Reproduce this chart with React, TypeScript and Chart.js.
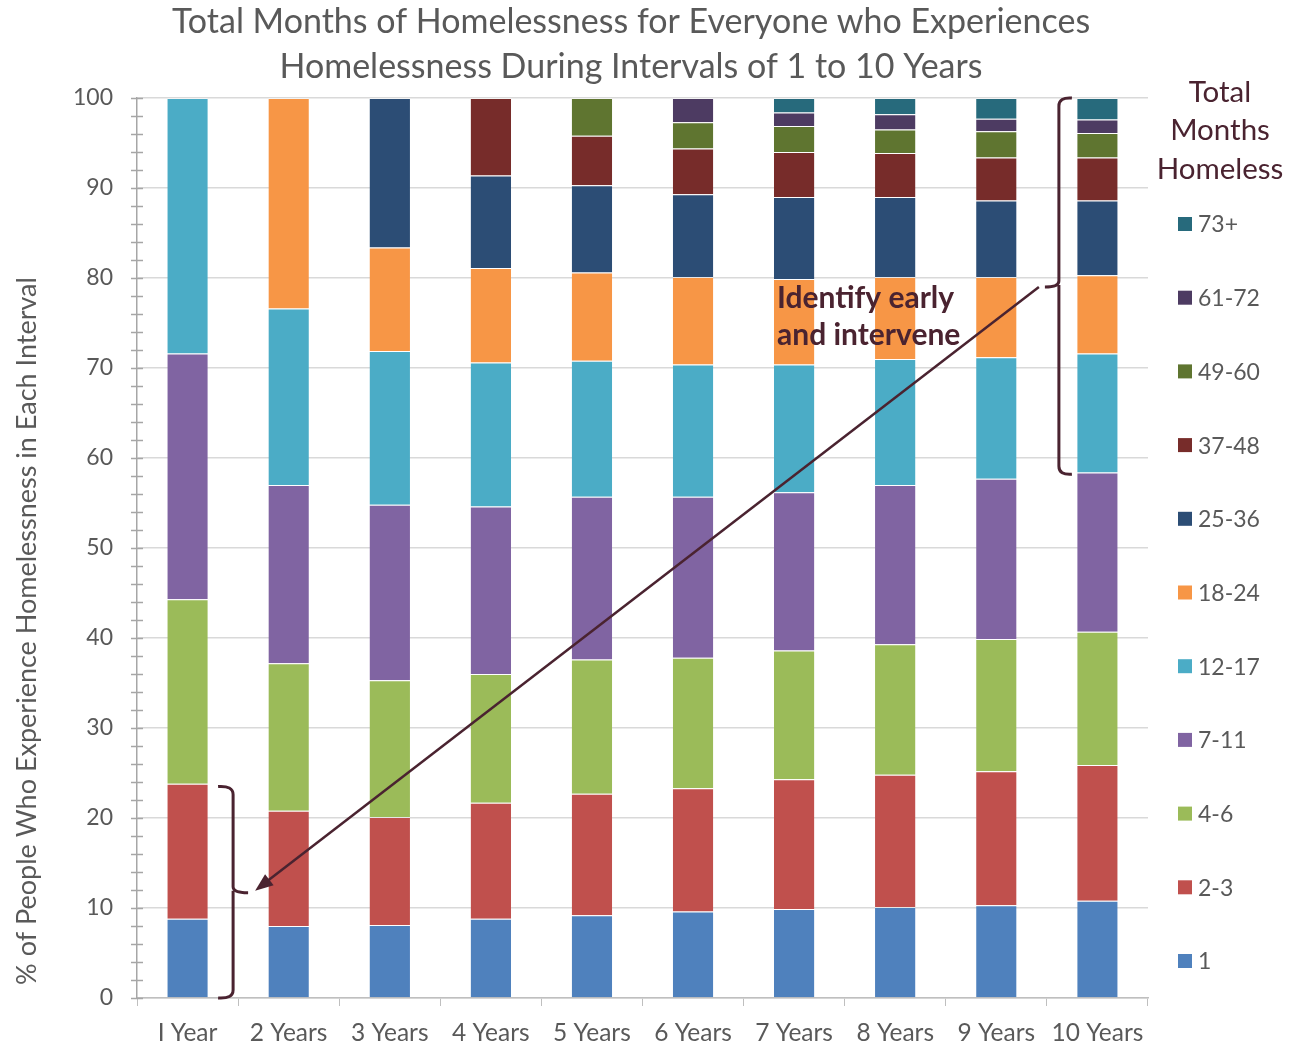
import React, { useEffect, useRef } from 'react';
import { Chart, registerables } from 'chart.js';
Chart.register(...registerables);

const categories = ['I Year', '2 Years', '3 Years', '4 Years', '5 Years', '6 Years', '7 Years', '8 Years', '9 Years', '10 Years'];
const seriesNames = ['1', '2-3', '4-6', '7-11', '12-17', '18-24', '25-36', '37-48', '49-60', '61-72', '73+'];
const m1 = [8.8, 8.0, 8.1, 8.8, 9.2, 9.6, 9.9, 10.1, 10.3, 10.8];
const m2to3 = [15.0, 12.8, 12.0, 12.9, 13.5, 13.7, 14.4, 14.7, 14.9, 15.1];
const m4to6 = [20.5, 16.4, 15.2, 14.3, 14.9, 14.5, 14.3, 14.5, 14.7, 14.8];
const m7to11 = [27.3, 19.8, 19.5, 18.6, 18.1, 17.9, 17.6, 17.7, 17.8, 17.7];
const m12to17 = [28.4, 19.6, 17.1, 16.0, 15.1, 14.7, 14.2, 14.0, 13.5, 13.2];
const m18to24 = [null, 23.4, 11.5, 10.5, 9.8, 9.7, 9.5, 9.1, 8.9, 8.7];
const m25to36 = [null, null, 16.6, 10.3, 9.7, 9.2, 9.1, 8.9, 8.5, 8.3];
const m37to48 = [null, null, null, 8.6, 5.5, 5.1, 5.0, 4.9, 4.8, 4.8];
const m49to60 = [null, null, null, null, 4.2, 2.9, 2.9, 2.6, 2.9, 2.7];
const m61to72 = [null, null, null, null, null, 2.7, 1.5, 1.7, 1.4, 1.5];
const m73plus = [null, null, null, null, null, null, 1.6, 1.8, 2.3, 2.4];
const seriesValues = [m1, m2to3, m4to6, m7to11, m12to17, m18to24, m25to36, m37to48, m49to60, m61to72, m73plus];
const colors = ['#4F81BD', '#C0504D', '#9BBB59', '#8064A2', '#4BACC6', '#F79646', '#2C4D75', '#772C2A', '#5F7530', '#4D3B62', '#276A7C'];
const yTicks = [0, 10, 20, 30, 40, 50, 60, 70, 80, 90, 100];
const titleLines = ['Total Months of Homelessness for Everyone who Experiences', 'Homelessness During Intervals of 1 to 10 Years'];
const yAxisTitle = '% of People Who Experience Homelessness in Each Interval';
const legendTitle = ['Total', 'Months', 'Homeless'];
const annotationText = ['Identify early', 'and intervene'];

const FONT = 'Lato, "Open Sans", sans-serif';
const MAROON = '#4A2330';

const overlay = {
  id: 'overlay',
  afterDraw(chart: any) {
    const ctx = chart.ctx as CanvasRenderingContext2D;
    const xs = chart.scales.x;
    const ys = chart.scales.y;
    const area = chart.chartArea;
    ctx.save();
    // title
    ctx.fillStyle = '#595959';
    ctx.font = `34px ${FONT}`;
    ctx.textAlign = 'center';
    ctx.textBaseline = 'middle';
    ctx.fillText(titleLines[0], 631, 22);
    ctx.fillText(titleLines[1], 631, 67);
    // y axis title
    ctx.save();
    ctx.translate(27, 631);
    ctx.rotate(-Math.PI / 2);
    ctx.font = `27px ${FONT}`;
    ctx.fillText(yAxisTitle, 0, 0);
    ctx.restore();
    // minor / major ticks crossing axis
    ctx.strokeStyle = '#A6A6A6';
    ctx.lineWidth = 1.5;
    for (let v = 0; v <= 100; v += 2) {
      const y = Math.round(ys.getPixelForValue(v)) + 0.5;
      ctx.beginPath();
      ctx.moveTo(area.left - 6, y);
      ctx.lineTo(area.left + 6, y);
      ctx.stroke();
    }
    // legend
    ctx.fillStyle = MAROON;
    ctx.font = `29.5px ${FONT}`;
    ctx.textAlign = 'center';
    legendTitle.forEach((t, i) => ctx.fillText(t, 1220, 92 + i * 38.5));
    ctx.font = `23px ${FONT}`;
    ctx.textAlign = 'left';
    for (let i = 0; i < seriesNames.length; i++) {
      const idx = seriesNames.length - 1 - i;
      const cy = 224 + i * 73.7;
      ctx.fillStyle = colors[idx];
      ctx.fillRect(1178, cy - 7, 14, 14);
      ctx.fillStyle = '#595959';
      ctx.fillText(seriesNames[idx], 1198, cy + 1);
    }
    // brackets
    ctx.strokeStyle = MAROON;
    ctx.lineWidth = 3;
    ctx.lineJoin = 'round';
    const bx = (xs.getPixelForValue(0) + xs.getPixelForValue(1)) / 2 - 5;
    const lt = ys.getPixelForValue(23.5);
    const lb = ys.getPixelForValue(0);
    const lm = ys.getPixelForValue(11.7);
    ctx.beginPath();
    ctx.moveTo(bx - 15, lt);
    ctx.quadraticCurveTo(bx, lt - 1, bx, lt + 8);
    ctx.lineTo(bx, lm - 6);
    ctx.quadraticCurveTo(bx, lm, bx + 15, lm);
    ctx.moveTo(bx, lm - 2);
    ctx.quadraticCurveTo(bx, lm, bx, lm + 6);
    ctx.lineTo(bx, lb - 8);
    ctx.quadraticCurveTo(bx, lb + 1, bx - 15, lb);
    ctx.stroke();
    const rx = (xs.getPixelForValue(8) + xs.getPixelForValue(9)) / 2 + 12;
    const rt = ys.getPixelForValue(100);
    const rb = ys.getPixelForValue(58.2);
    const rm = ys.getPixelForValue(79);
    ctx.beginPath();
    ctx.moveTo(rx + 13, rt);
    ctx.quadraticCurveTo(rx, rt - 1, rx, rt + 8);
    ctx.lineTo(rx, rm - 6);
    ctx.quadraticCurveTo(rx, rm, rx - 14, rm);
    ctx.moveTo(rx, rm - 2);
    ctx.quadraticCurveTo(rx, rm, rx, rm + 6);
    ctx.lineTo(rx, rb - 8);
    ctx.quadraticCurveTo(rx, rb + 1, rx + 13, rb);
    ctx.stroke();
    // arrow
    const ax1 = rx - 20, ay1 = rm;
    const ax2 = bx + 22, ay2 = lm - 2;
    ctx.lineWidth = 2.5;
    ctx.beginPath();
    ctx.moveTo(ax1, ay1);
    ctx.lineTo(ax2 + 10, ay2 - 8);
    ctx.stroke();
    const ang = Math.atan2(ay2 - ay1, ax2 - ax1);
    ctx.fillStyle = MAROON;
    ctx.beginPath();
    ctx.moveTo(ax2, ay2);
    ctx.lineTo(ax2 - 18 * Math.cos(ang) + 7 * Math.sin(ang), ay2 - 18 * Math.sin(ang) - 7 * Math.cos(ang));
    ctx.lineTo(ax2 - 18 * Math.cos(ang) - 7 * Math.sin(ang), ay2 - 18 * Math.sin(ang) + 7 * Math.cos(ang));
    ctx.closePath();
    ctx.fill();
    // annotation text
    ctx.font = `bold 30px ${FONT}`;
    ctx.textAlign = 'left';
    ctx.fillText(annotationText[0], 777, 298);
    ctx.fillText(annotationText[1], 777, 335);
    ctx.restore();
  },
};

export default function App() {
  const ref = useRef<HTMLCanvasElement>(null);
  useEffect(() => {
    if (!ref.current) return;
    const chart = new Chart(ref.current, {
      type: 'bar',
      data: {
        labels: categories,
        datasets: seriesNames.map((name, i) => ({
          label: name,
          data: seriesValues[i],
          backgroundColor: colors[i],
          borderColor: 'rgba(255,255,255,0.35)',
          borderWidth: { top: 1, bottom: 0, left: 0, right: 0 },
          barPercentage: 0.4,
          categoryPercentage: 1.0,
        })),
      },
      options: {
        responsive: false,
        animation: false,
        layout: { padding: { left: 0, right: 153, top: 98, bottom: 0 } },
        plugins: { legend: { display: false }, title: { display: false }, tooltip: { enabled: false } },
        scales: {
          x: {
            stacked: true,
            border: { color: '#BFBFBF', width: 1.5 },
            grid: { drawOnChartArea: false, tickLength: 8, tickColor: '#BFBFBF', offset: true },
            ticks: { color: '#595959', font: { family: FONT, size: 24.5 }, padding: 12, maxRotation: 0 },
            afterFit: (s: any) => { s.height = 48; },
          },
          y: {
            stacked: true,
            min: 0,
            max: 100,
            border: { color: '#A6A6A6', width: 1.5 },
            grid: { color: '#D9D9D9', lineWidth: 1.5, drawTicks: false },
            afterBuildTicks: (s: any) => { s.ticks = yTicks.map((v) => ({ value: v })); },
            ticks: { color: '#595959', font: { family: FONT, size: 23 }, padding: 24 },
            afterFit: (s: any) => { s.width = 137; },
          },
        },
      },
      plugins: [overlay],
    });
    return () => chart.destroy();
  }, []);
  return (
    <div style={{ position: 'fixed', left: 0, top: 0, width: 1301, height: 1046, background: '#fff' }}>
      <canvas ref={ref} width={1301} height={1046} style={{ width: 1301, height: 1046 }} />
    </div>
  );
}
